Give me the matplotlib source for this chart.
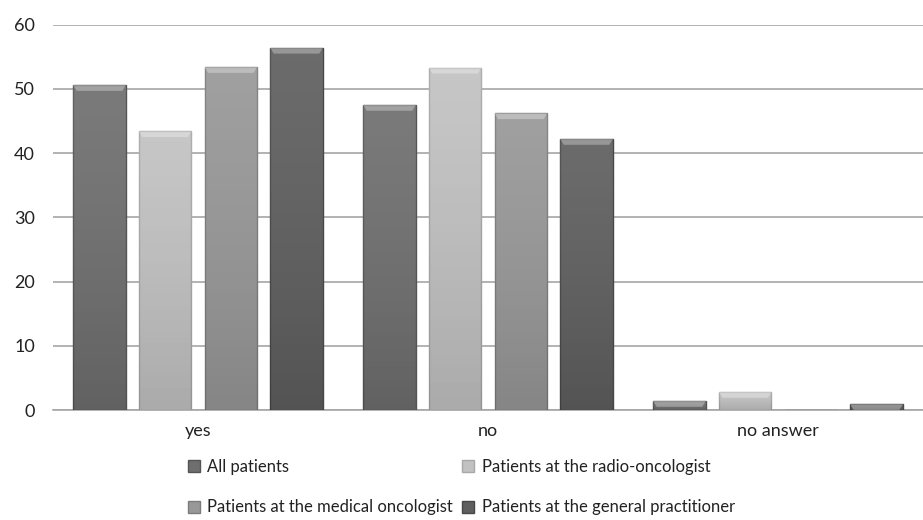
import matplotlib
matplotlib.use("Agg")
import matplotlib.pyplot as plt
import numpy as np
from matplotlib.lines import Line2D

categories = ["yes", "no", "no answer"]
series_names = ["All patients", "Patients at the radio-oncologist",
                "Patients at the medical oncologist", "Patients at the general practitioner"]
all_patients = [50.6, 47.5, 1.4]
radio_oncologist = [43.4, 53.3, 2.8]
medical_oncologist = [53.4, 46.2, 0.0]
general_practitioner = [56.4, 42.2, 0.9]
yticks = [0, 10, 20, 30, 40, 50, 60]

series = [all_patients, radio_oncologist, medical_oncologist, general_practitioner]
colors = ["#6f6f6f", "#c2c2c2", "#989898", "#5f5f5f"]
edges = ["#555555", "#a8a8a8", "#7c7c7c", "#474747"]

plt.rcParams['font.family'] = ['Lato', 'DejaVu Sans']

fig = plt.figure(figsize=(9.23, 5.2), dpi=100)
ax = fig.add_axes([0.0574, 0.2115, 0.9426, 0.741])

x = np.arange(len(categories))
step = 0.2265
width = 0.181
for i, (vals, c, e) in enumerate(zip(series, colors, edges)):
    pos = x + (i - 1.5) * step
    bars = ax.bar(pos, vals, width, color=c, edgecolor=e, linewidth=1.0, zorder=3,
                  label=series_names[i])
    for b in bars:
        h = b.get_height()
        if h <= 0:
            continue
        x0 = b.get_x()
        w = b.get_width()
        grad = np.linspace(0.0, 1.0, 50).reshape(-1, 1)
        im = ax.imshow(grad, extent=[x0, x0 + w, 0, h], aspect='auto', origin='lower',
                       cmap=matplotlib.colors.LinearSegmentedColormap.from_list(
                           'g', [(0, 0, 0, 0.12), (1, 1, 1, 0.08)]),
                       zorder=3.5)
        im.set_clip_path(b)
        bh = min(0.9, h)
        ax.fill([x0, x0 + w, x0 + w - 0.012, x0 + 0.012], [h, h, h - bh, h - bh],
                color='white', alpha=0.3, zorder=4, linewidth=0)

ax.set_xlim(-0.5, 2.5)
ax.set_ylim(0, 60)
ax.set_yticks(yticks)
ax.set_xticks(x)
ax.set_xticklabels(categories)
ax.yaxis.grid(True, color="#a6a6a6", linewidth=1.2, zorder=0)
ax.set_axisbelow(True)
for s in ["top", "right", "left"]:
    ax.spines[s].set_visible(False)
ax.spines["bottom"].set_color("#a6a6a6")
ax.spines["bottom"].set_linewidth(1.2)
ax.tick_params(axis='both', length=0, labelsize=13, colors="#222222")
ax.tick_params(axis='y', pad=13)
ax.tick_params(axis='x', pad=9)

order = [0, 2, 1, 3]
handles = [Line2D([], [], marker='s', linestyle='none', markersize=8,
                  markerfacecolor=colors[k], markeredgecolor=edges[k]) for k in order]
labels = [series_names[k] for k in order]
leg = fig.legend(handles, labels, loc='lower left', bbox_to_anchor=(0.185, -0.02),
                 ncol=2, frameon=False, fontsize=12, handletextpad=0.3,
                 columnspacing=0.4, labelspacing=1.45, handlelength=1.0)
for t in leg.get_texts():
    t.set_color("#222222")

fig.savefig("out.png", dpi=100)
